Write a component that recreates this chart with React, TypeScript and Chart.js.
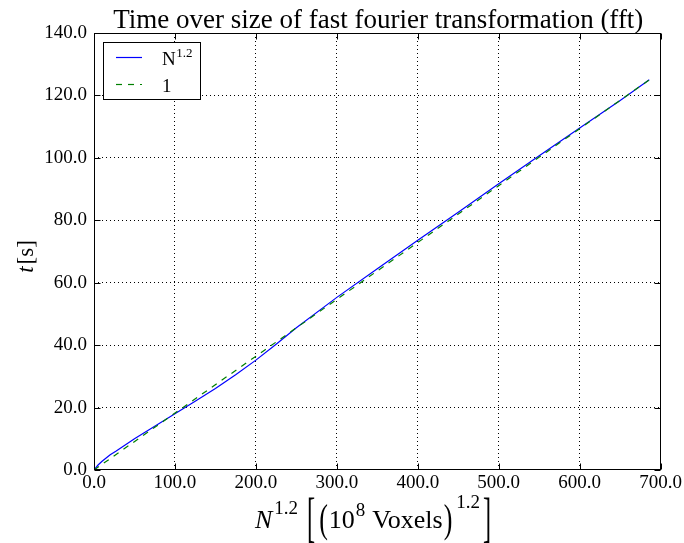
import React, { useEffect, useRef } from "react";
import { Chart, registerables } from "chart.js";

Chart.register(...registerables);

// ---- data ----
const X_BLUE = [0, 5, 10, 20, 27, 50, 75, 100, 125, 150, 175, 200, 225, 250, 300, 350, 400, 450, 500, 550, 600, 650, 686];
const Y_BLUE = [0, 1.6, 2.8, 4.9, 6.0, 10.0, 14.0, 18.0, 22.0, 26.1, 30.5, 35.2, 40.3, 45.6, 55.3, 64.5, 73.6, 82.6, 91.7, 100.7, 109.6, 118.4, 125.0];
const X_GREEN = [0, 686];
const Y_GREEN = [0, 125];
const X_MIN = 0, X_MAX = 700, X_STEP = 100;
const Y_MIN = 0, Y_MAX = 140, Y_STEP = 20;
const TITLE = "Time over size of fast fourier transformation (fft)";
const LEGEND_BLUE = ["N", "1.2"];
const LEGEND_GREEN = "1";

const SERIF = "'Liberation Serif', 'DejaVu Serif', serif";
const BLUE = "#0000ff";
const GREEN = "#008000";

const decorPlugin = {
  id: "decor",
  afterDraw(chart: any) {
    const ctx = chart.ctx as CanvasRenderingContext2D;
    const a = chart.chartArea;
    const xs = chart.scales.x;
    const ys = chart.scales.y;
    ctx.save();
    // frame
    ctx.strokeStyle = "#000";
    ctx.lineWidth = 1;
    ctx.setLineDash([]);
    const L = Math.round(a.left) + 0.5, R = Math.round(a.right) - 0.5;
    const T = Math.round(a.top) + 0.5, B = Math.round(a.bottom) - 0.5;
    ctx.strokeRect(L, T, R - L, B - T);
    // inward ticks
    const tl = 6;
    ctx.beginPath();
    xs.ticks.forEach((t: any) => {
      const px = Math.round(xs.getPixelForValue(t.value)) + 0.5;
      ctx.moveTo(px, B); ctx.lineTo(px, B - tl);
      ctx.moveTo(px, T); ctx.lineTo(px, T + tl);
    });
    ys.ticks.forEach((t: any) => {
      const py = Math.round(ys.getPixelForValue(t.value)) + 0.5;
      ctx.moveTo(L, py); ctx.lineTo(L + tl, py);
      ctx.moveTo(R, py); ctx.lineTo(R - tl, py);
    });
    ctx.stroke();

    // title
    ctx.fillStyle = "#000";
    ctx.textAlign = "center";
    ctx.textBaseline = "alphabetic";
    ctx.font = `27px ${SERIF}`;
    ctx.fillText(TITLE, (a.left + a.right) / 2 + 1, 28);

    // y axis title  t [s]
    ctx.save();
    ctx.translate(33, (a.top + a.bottom) / 2 + 5);
    ctx.rotate(-Math.PI / 2);
    ctx.textAlign = "left";
    ctx.font = `italic 23px ${SERIF}`;
    const tW = ctx.measureText("t").width;
    ctx.font = `23px ${SERIF}`;
    const sW = ctx.measureText("[s]").width;
    const start = -(tW + 2 + sW) / 2;
    ctx.font = `italic 23px ${SERIF}`;
    ctx.fillText("t", start, 0);
    ctx.font = `23px ${SERIF}`;
    ctx.fillText("[s]", start + tW + 2, 0);
    ctx.restore();

    // x axis title  N^{1.2} [ (10^8 Voxels)^{1.2} ]
    const base = 528;
    ctx.textAlign = "left";
    let x = 255;
    const put = (txt: string, font: string, dy: number) => {
      ctx.font = font;
      ctx.fillText(txt, x, base + dy);
      x += ctx.measureText(txt).width;
    };
    const putScaled = (txt: string, size: number, sx: number, dy: number) => {
      ctx.save();
      ctx.font = `${size}px ${SERIF}`;
      const w = ctx.measureText(txt).width;
      ctx.translate(x, base + dy);
      ctx.scale(sx, 1);
      ctx.fillText(txt, 0, 0);
      ctx.restore();
      x += w * sx;
    };
    put("N", `italic 26px ${SERIF}`, 0);
    x += 2;
    put("1.2", `19px ${SERIF}`, -14);
    x += 9;
    putScaled("[", 54, 0.45, 8);
    x += 4;
    putScaled("(", 40, 0.65, 4);
    x += 1;
    put("10", `26px ${SERIF}`, 0);
    x += 1;
    put("8", `19px ${SERIF}`, -12);
    x += 7;
    put("Voxels", `26px ${SERIF}`, 0);
    x += 1;
    putScaled(")", 40, 0.65, 4);
    x += 4;
    put("1.2", `19px ${SERIF}`, -20);
    x += 3;
    putScaled("]", 54, 0.45, 8);

    // legend
    const lx = 103.5, ly = 42.5, lw = 97, lh = 57;
    ctx.fillStyle = "#fff";
    ctx.fillRect(lx, ly, lw, lh);
    ctx.strokeStyle = "#000";
    ctx.lineWidth = 1;
    ctx.strokeRect(lx, ly, lw, lh);
    ctx.lineWidth = 1.2;
    ctx.strokeStyle = BLUE;
    ctx.beginPath();
    ctx.moveTo(116, 57.5); ctx.lineTo(142, 57.5);
    ctx.stroke();
    ctx.strokeStyle = GREEN;
    ctx.setLineDash([6, 6]);
    ctx.beginPath();
    ctx.moveTo(116, 84.5); ctx.lineTo(142, 84.5);
    ctx.stroke();
    ctx.setLineDash([]);
    ctx.fillStyle = "#000";
    ctx.font = `19px ${SERIF}`;
    ctx.fillText(LEGEND_BLUE[0], 162, 65);
    const nW = ctx.measureText(LEGEND_BLUE[0]).width;
    ctx.font = `13px ${SERIF}`;
    ctx.fillText(LEGEND_BLUE[1], 162 + nW + 0.5, 57);
    ctx.font = `19px ${SERIF}`;
    ctx.fillText(LEGEND_GREEN, 162, 92);
    ctx.restore();
  },
};

export default function App() {
  const ref = useRef<HTMLCanvasElement | null>(null);
  useEffect(() => {
    if (!ref.current) return;
    const tickFont = { family: SERIF, size: 19 };
    const chart = new Chart(ref.current, {
      type: "line",
      data: {
        datasets: [
          {
            label: "N^1.2",
            data: X_BLUE.map((v, i) => ({ x: v, y: Y_BLUE[i] })),
            borderColor: BLUE,
            borderWidth: 1.2,
            pointRadius: 0,
            fill: false,
            tension: 0,
            order: 1,
          },
          {
            label: LEGEND_GREEN,
            data: X_GREEN.map((v, i) => ({ x: v, y: Y_GREEN[i] })),
            borderColor: GREEN,
            borderWidth: 1.2,
            borderDash: [6, 6],
            pointRadius: 0,
            fill: false,
            tension: 0,
            order: 0,
          },
        ],
      },
      options: {
        responsive: false,
        animation: false,
        events: [],
        layout: { padding: { top: 33, right: 23, left: 0, bottom: 0 } },
        plugins: { legend: { display: false }, tooltip: { enabled: false }, title: { display: false } },
        scales: {
          x: {
            type: "linear",
            min: X_MIN,
            max: X_MAX,
            ticks: {
              stepSize: X_STEP,
              color: "#000",
              font: tickFont,
              padding: 2,
              maxRotation: 0,
              callback: (v: any) => Number(v).toFixed(1),
            },
            grid: {
              color: (c: any) => (c.tick && (c.tick.value === X_MIN || c.tick.value === X_MAX) ? "rgba(0,0,0,0)" : "#000"),
              lineWidth: 1,
              drawTicks: false,
            },
            border: { display: false, dash: [1, 3] },
            afterFit: (s: any) => { s.height = 73; },
          },
          y: {
            type: "linear",
            min: Y_MIN,
            max: Y_MAX,
            ticks: {
              stepSize: Y_STEP,
              color: "#000",
              font: tickFont,
              padding: 7,
              callback: (v: any) => Number(v).toFixed(1),
            },
            grid: {
              color: (c: any) => (c.tick && (c.tick.value === Y_MIN || c.tick.value === Y_MAX) ? "rgba(0,0,0,0)" : "#000"),
              lineWidth: 1,
              drawTicks: false,
            },
            border: { display: false, dash: [1, 3] },
            afterFit: (s: any) => { s.width = 94; },
          },
        },
      },
      plugins: [decorPlugin],
    });
    return () => chart.destroy();
  }, []);
  return (
    <div style={{ position: "absolute", left: 0, top: 0, width: 684, height: 543, background: "#fff" }}>
      <canvas ref={ref} width={684} height={543} style={{ display: "block" }} />
    </div>
  );
}
